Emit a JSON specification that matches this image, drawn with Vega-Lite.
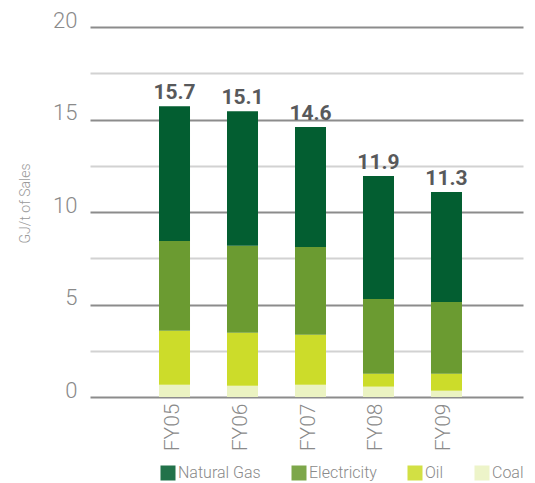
{
  "$schema": "https://vega.github.io/schema/vega-lite/v6.json",
  "autosize": "none",
  "width": 433,
  "height": 370,
  "padding": {"left": 90, "top": 27, "right": 12, "bottom": 86},
  "background": "white",
  "config": {"view": {"stroke": null}},
  "data": {
    "values": [
      {"year": "FY05", "source": "Coal", "rank": 1, "value": 0.66, "label": 15.7},
      {"year": "FY05", "source": "Oil", "rank": 2, "value": 2.92, "label": 15.7},
      {"year": "FY05", "source": "Electricity", "rank": 3, "value": 4.85, "label": 15.7},
      {"year": "FY05", "source": "Natural Gas", "rank": 4, "value": 7.29, "label": 15.7},
      {"year": "FY06", "source": "Coal", "rank": 1, "value": 0.61, "label": 15.1},
      {"year": "FY06", "source": "Oil", "rank": 2, "value": 2.86, "label": 15.1},
      {"year": "FY06", "source": "Electricity", "rank": 3, "value": 4.70, "label": 15.1},
      {"year": "FY06", "source": "Natural Gas", "rank": 4, "value": 7.28, "label": 15.1},
      {"year": "FY07", "source": "Coal", "rank": 1, "value": 0.66, "label": 14.6},
      {"year": "FY07", "source": "Oil", "rank": 2, "value": 2.70, "label": 14.6},
      {"year": "FY07", "source": "Electricity", "rank": 3, "value": 4.75, "label": 14.6},
      {"year": "FY07", "source": "Natural Gas", "rank": 4, "value": 6.48, "label": 14.6},
      {"year": "FY08", "source": "Coal", "rank": 1, "value": 0.56, "label": 11.9},
      {"year": "FY08", "source": "Oil", "rank": 2, "value": 0.70, "label": 11.9},
      {"year": "FY08", "source": "Electricity", "rank": 3, "value": 4.04, "label": 11.9},
      {"year": "FY08", "source": "Natural Gas", "rank": 4, "value": 6.64, "label": 11.9},
      {"year": "FY09", "source": "Coal", "rank": 1, "value": 0.34, "label": 11.3},
      {"year": "FY09", "source": "Oil", "rank": 2, "value": 0.92, "label": 11.3},
      {"year": "FY09", "source": "Electricity", "rank": 3, "value": 3.88, "label": 11.3},
      {"year": "FY09", "source": "Natural Gas", "rank": 4, "value": 5.94, "label": 11.3}
    ]
  },
  "encoding": {
    "x": {
      "field": "year",
      "type": "nominal",
      "sort": null,
      "scale": {"paddingInner": 0.544, "paddingOuter": 0.956},
      "axis": {
        "title": null,
        "labelAngle": -90,
        "labelFontSize": 21,
        "labelFont": "Roboto",
        "labelFontWeight": 300,
        "labelColor": "#8a8a8a",
        "labelPadding": 6,
        "labelOffset": 2,
        "domain": false,
        "ticks": false,
        "grid": false
      }
    }
  },
  "layer": [
    {
      "mark": {"type": "bar", "xOffset": 4},
      "encoding": {
        "y": {
          "field": "value",
          "type": "quantitative",
          "stack": "zero",
          "scale": {"domain": [0, 20], "nice": false},
          "axis": {
            "title": "GJ/t of Sales",
            "titleFont": "Roboto",
            "titleFontSize": 14,
            "titleFontWeight": 300,
            "titleColor": "#9a9a9a",
            "titleX": -65,
            "titleY": 176,
            "titleAngle": -90,
            "titleAlign": "center",
            "titleBaseline": "middle",
            "values": [0, 2.5, 5, 7.5, 10, 12.5, 15, 17.5, 20],
            "labelExpr": "datum.value % 5 === 0 ? datum.label : ''",
            "labelFont": "Roboto",
            "labelFontWeight": 300,
            "labelFontSize": 22,
            "labelColor": "#8a8a8a",
            "labelBaseline": "alphabetic",
            "labelPadding": 13,
            "domain": false,
            "ticks": false,
            "grid": true,
            "gridWidth": 2,
            "gridColor": {"condition": {"test": "datum.value % 5 === 0", "value": "#8c8c8c"}, "value": "#d2d2d2"}
          }
        },
        "color": {
          "field": "source",
          "type": "nominal",
          "scale": {
            "domain": ["Natural Gas", "Electricity", "Oil", "Coal"],
            "range": ["#035e31", "#6b9b31", "#ccdc2a", "#ebf3c2"]
          },
          "legend": {
            "title": null,
            "orient": "none",
            "legendX": 70,
            "legendY": 438,
            "direction": "horizontal",
            "symbolType": "square",
            "symbolSize": 225,
            "symbolStrokeWidth": 0,
            "symbolOpacity": 0.88,
            "labelFont": "Roboto",
            "labelFontWeight": 300,
            "labelFontSize": 16,
            "labelColor": "#8a8a8a",
            "labelOffset": 2,
            "columnPadding": 30
          }
        },
        "order": {"field": "rank", "type": "quantitative"}
      }
    },
    {
      "mark": {
        "type": "text",
        "font": "Roboto",
        "fontWeight": "bold",
        "fontSize": 21,
        "color": "#58595b",
        "baseline": "alphabetic",
        "dy": -7,
        "xOffset": 4
      },
      "encoding": {
        "y": {"aggregate": "sum", "field": "value", "type": "quantitative"},
        "text": {"aggregate": "max", "field": "label", "type": "quantitative", "format": ".1f"}
      }
    }
  ]
}
